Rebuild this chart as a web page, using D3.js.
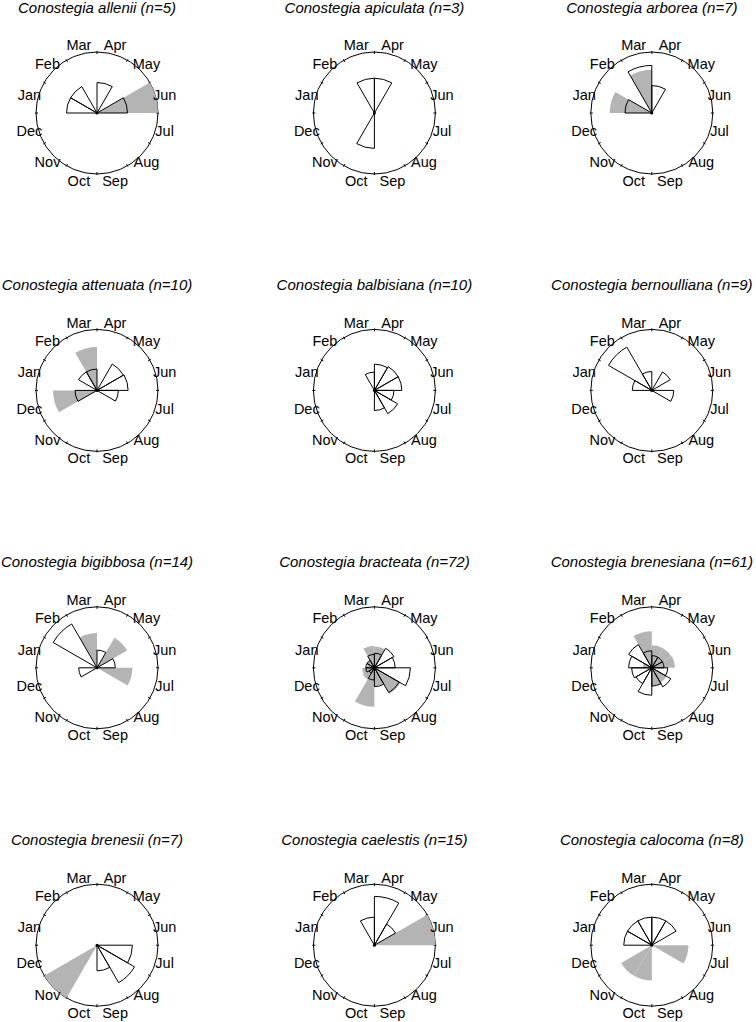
<!DOCTYPE html>
<html>
<head>
<meta charset="utf-8">
<script src="https://cdn.jsdelivr.net/npm/d3@7"></script>
<style>
  html, body { margin: 0; padding: 0; background: #fff; }
  svg { display: block; }
</style>
</head>
<body>
<svg id="chart" width="756" height="1022"></svg>
<script>
// Months in data order (Jan..Dec)
const months = ["Jan","Feb","Mar","Apr","May","Jun","Jul","Aug","Sep","Oct","Nov","Dec"];

const species = [
  "Conostegia allenii", "Conostegia apiculata", "Conostegia arborea",
  "Conostegia attenuata", "Conostegia balbisiana", "Conostegia bernoulliana",
  "Conostegia bigibbosa", "Conostegia bracteata", "Conostegia brenesiana",
  "Conostegia brenesii", "Conostegia caelestis", "Conostegia calocoma"
];
const sampleSizes = [5, 3, 7, 10, 10, 9, 14, 72, 61, 7, 15, 8];

// Relative wedge radius (fraction of the circle radius), Jan..Dec
// Flowering (outlined wedges)
const flowering = [
  [0.50, 0.50, 0,    0.50, 0,    0.50, 0,    0,    0,    0,    0,    0   ], // allenii
  [0,    0,    0.57, 0.57, 0,    0,    0,    0,    0,    0.58, 0,    0   ], // apiculata
  [0.44, 0,    0.78, 0.45, 0,    0,    0,    0,    0,    0,    0,    0   ], // arborea
  [0,    0.35, 0.35, 0,    0.50, 0.51, 0.35, 0,    0,    0,    0,    0.36], // attenuata
  [0,    0,    0.30, 0.43, 0.45, 0.45, 0.32, 0.44, 0.33, 0,    0,    0   ], // balbisiana
  [0.32, 0.82, 0.31, 0,    0.35, 0,    0.36, 0,    0,    0,    0,    0   ], // bernoulliana
  [0,    0.83, 0,    0.29, 0,    0.30, 0,    0,    0,    0,    0,    0.30], // bigibbosa
  [0.14, 0.14, 0.22, 0.24, 0.37, 0.34, 0.59, 0.47, 0.31, 0.20, 0.10, 0.14], // bracteata
  [0.38, 0.44, 0.28, 0.20, 0.20, 0.20, 0.26, 0.36, 0.30, 0.45, 0.30, 0.33], // brenesiana
  [0,    0,    0,    0,    0,    0,    0.58, 0.71, 0.42, 0,    0,    0   ], // brenesii
  [0,    0,    0.46, 0.80, 0.40, 0,    0,    0,    0,    0,    0,    0   ], // caelestis
  [0.46, 0.46, 0.46, 0.46, 0.46, 0,    0,    0,    0,    0,    0,    0   ]  // calocoma
];
// Fruiting (grey filled wedges)
const fruiting = [
  [0,    0,    0,    0,    0,    1.00, 0,    0,    0,    0,    0,    0   ], // allenii
  [0,    0,    0,    0,    0,    0,    0,    0,    0,    0,    0,    0   ], // apiculata
  [0.69, 0,    0.71, 0,    0,    0,    0,    0,    0,    0,    0,    0   ], // arborea
  [0,    0,    0.71, 0,    0,    0,    0,    0,    0,    0,    0,    0.72], // attenuata
  [0,    0,    0,    0,    0,    0,    0,    0,    0,    0,    0,    0   ], // balbisiana
  [0,    0,    0,    0,    0,    0,    0,    0,    0,    0,    0,    0   ], // bernoulliana
  [0,    0,    0.57, 0,    0.57, 0,    0.58, 0,    0,    0,    0,    0   ], // bigibbosa
  [0.12, 0.15, 0.36, 0.35, 0,    0,    0,    0.49, 0.30, 0.64, 0.22, 0.20], // bracteata
  [0.15, 0,    0.60, 0.37, 0.37, 0.38, 0,    0.28, 0.30, 0,    0,    0   ], // brenesiana
  [0,    0,    0,    0,    0,    0,    0,    0,    0,    0,    1.00, 0   ], // brenesii
  [0,    0,    0,    0,    0,    1.00, 0,    0,    0,    0,    0,    0   ], // caelestis
  [0,    0,    0,    0,    0,    0,    0.60, 0,    0,    0.58, 0.58, 0   ]  // calocoma
];

const svg = d3.select("#chart");
const R = 61;
const labelR = 70;
const nCols = 3;
const x0 = 97, y0 = 113, step = 277.4;

// d3 angles: clockwise from north; Jan sector starts at west (-90deg)
const angle = d3.scaleLinear().domain([0, 12]).range([-Math.PI / 2, 3 * Math.PI / 2]);
const radius = d3.scaleLinear().domain([0, 1]).range([0, R]);
const arc = d3.arc()
  .innerRadius(0)
  .outerRadius(d => radius(d.v))
  .startAngle(d => angle(d.i))
  .endAngle(d => angle(d.i + 1));

species.forEach((name, k) => {
  const cx = x0 + (k % nCols) * step;
  const cy = y0 + Math.floor(k / nCols) * step;
  const g = svg.append("g").attr("transform", `translate(${cx},${cy})`);

  g.append("text")
    .attr("x", 0).attr("y", -100.5)
    .attr("text-anchor", "middle")
    .attr("font-family", "Liberation Sans, Arial, sans-serif")
    .attr("font-style", "italic")
    .attr("font-size", 15)
    .attr("fill", "#000")
    .text(`${name} (n=${sampleSizes[k]})`);

  // outer circle
  g.append("circle").attr("r", R).attr("fill", "none").attr("stroke", "#000").attr("stroke-width", 1);

  // ticks at bin boundaries
  const ticks = d3.range(0, 12);
  g.selectAll("line.tick").data(ticks).join("line")
    .attr("class", "tick")
    .attr("x1", d => Math.sin(angle(d)) * (R - 2))
    .attr("y1", d => -Math.cos(angle(d)) * (R - 2))
    .attr("x2", d => Math.sin(angle(d)) * (R + 1))
    .attr("y2", d => -Math.cos(angle(d)) * (R + 1))
    .attr("stroke", "#000").attr("stroke-width", 1);

  // fruit (grey) wedges
  const fr = fruiting[k].map((v, i) => ({ v, i })).filter(d => d.v > 0);
  g.selectAll("path.fruit").data(fr).join("path")
    .attr("class", "fruit")
    .attr("d", arc)
    .attr("fill", "#b4b4b4")
    .attr("stroke", "none");

  // flower (outlined) wedges
  const fl = flowering[k].map((v, i) => ({ v, i })).filter(d => d.v > 0);
  g.selectAll("path.flower").data(fl).join("path")
    .attr("class", "flower")
    .attr("d", arc)
    .attr("fill", "none")
    .attr("stroke", "#000")
    .attr("stroke-width", 1);

  // center dot
  g.append("circle").attr("r", 1.5).attr("fill", "#000");

  // month labels
  g.selectAll("text.month").data(months).join("text")
    .attr("class", "month")
    .attr("x", (d, i) => Math.sin(angle(i + 0.5)) * labelR)
    .attr("y", (d, i) => -Math.cos(angle(i + 0.5)) * labelR)
    .attr("text-anchor", "middle")
    .attr("dominant-baseline", "central")
    .attr("font-family", "Liberation Sans, Arial, sans-serif")
    .attr("font-size", 14.5)
    .attr("fill", "#000")
    .text(d => d);
});
</script>
</body>
</html>
